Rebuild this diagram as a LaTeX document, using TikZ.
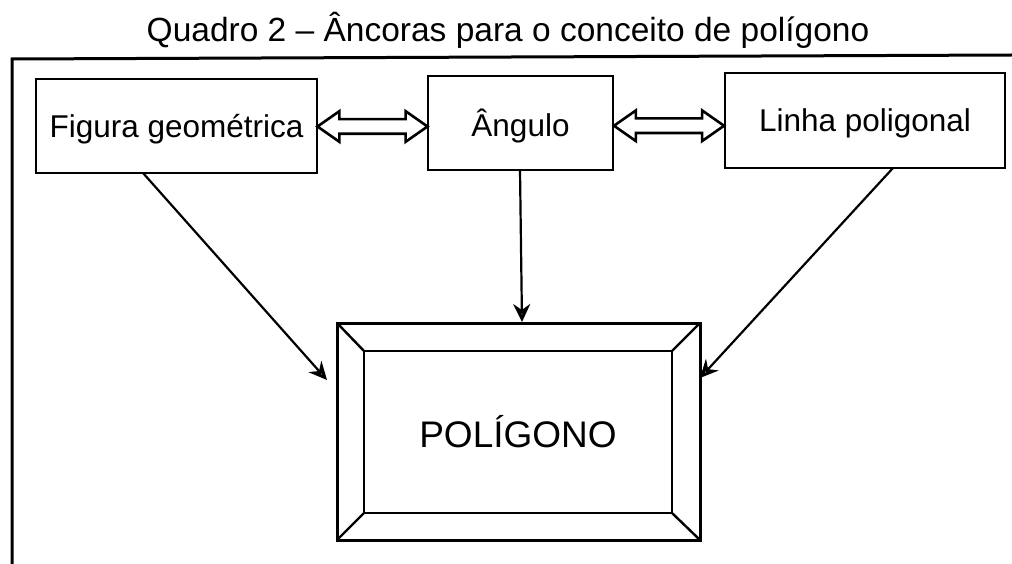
\documentclass[tikz,border=0pt]{standalone}
\usepackage{fontspec}
\setmainfont{Liberation Sans}
\usetikzlibrary{shapes.arrows,arrows.meta,calc}
\begin{document}
\begin{tikzpicture}[x=1pt,y=-1pt,
  box/.style={draw,line width=2.8pt,font=\fontsize{31.5}{36}\selectfont,inner sep=0pt,text depth=0pt},
  darrow/.style={double arrow,draw,line width=2.6pt,inner xsep=0pt,inner ysep=6pt,
     double arrow head extend=8pt,double arrow tip angle=70,minimum height=110pt},
  conn/.style={line width=2.2pt,-{Stealth[open,length=18pt,width=17pt,inset=6pt,fill=white,line width=3pt]}}]
\useasboundingbox (0,0) rectangle (1012,564);
% title
\node[font=\fontsize{33.5}{40}\selectfont] (title) at (508,30) {Quadro 2 – Âncoras para o conceito de polígono};
% outer frame
\coordinate (fb) at (12,564);
\coordinate (ftl) at (12,59);
\coordinate (ftr) at (1012,55);
\draw[line width=3pt] (fb) -- (ftl) -- (ftr);
% boxes
\node[box,minimum width=281pt,minimum height=94pt] (fig) at (176.5,126) {Figura geométrica};
\node[box,minimum width=185pt,minimum height=94pt] (ang) at (520.5,123) {Ângulo};
\node[box,minimum width=280pt,minimum height=95pt] (lin) at (865,120.5) {Linha poligonal};
% polygon frame
\coordinate (o1) at (337,323); \coordinate (o2) at (700,323);
\coordinate (o3) at (700,540); \coordinate (o4) at (337,540);
\coordinate (i1) at (364,351); \coordinate (i2) at (672,351);
\coordinate (i3) at (672,513); \coordinate (i4) at (364,513);
\draw[line width=3pt] (o1) -- (o2) -- (o3) -- (o4) -- cycle;
\draw[line width=2.8pt] (i1) -- (i2) -- (i3) -- (i4) -- cycle;
\draw[line width=2.4pt] (o1) -- (i1) (o2) -- (i2) (o3) -- (i3) (o4) -- (i4);
\node[font=\fontsize{37}{44}\selectfont] (pol) at (518,432) {POLÍGONO};
\coordinate (pl) at (327,380);
\coordinate (pt) at (522,322);
\coordinate (pr) at (700,378);
% double arrows
\node[darrow] (d1) at ($(fig.east)!0.5!(ang.west)+(0,2)$) {};
\node[darrow] (d2) at ($(ang.east)!0.5!(lin.west)+(0,4)$) {};
% connectors
\coordinate (s1) at (143,173);
\coordinate (s2) at (520,170);
\coordinate (s3) at (893,168);
\draw[conn] (s1) -- (pl);
\draw[conn] (s2) -- (pt);
\draw[conn] (s3) -- (pr);
\end{tikzpicture}
\end{document}
